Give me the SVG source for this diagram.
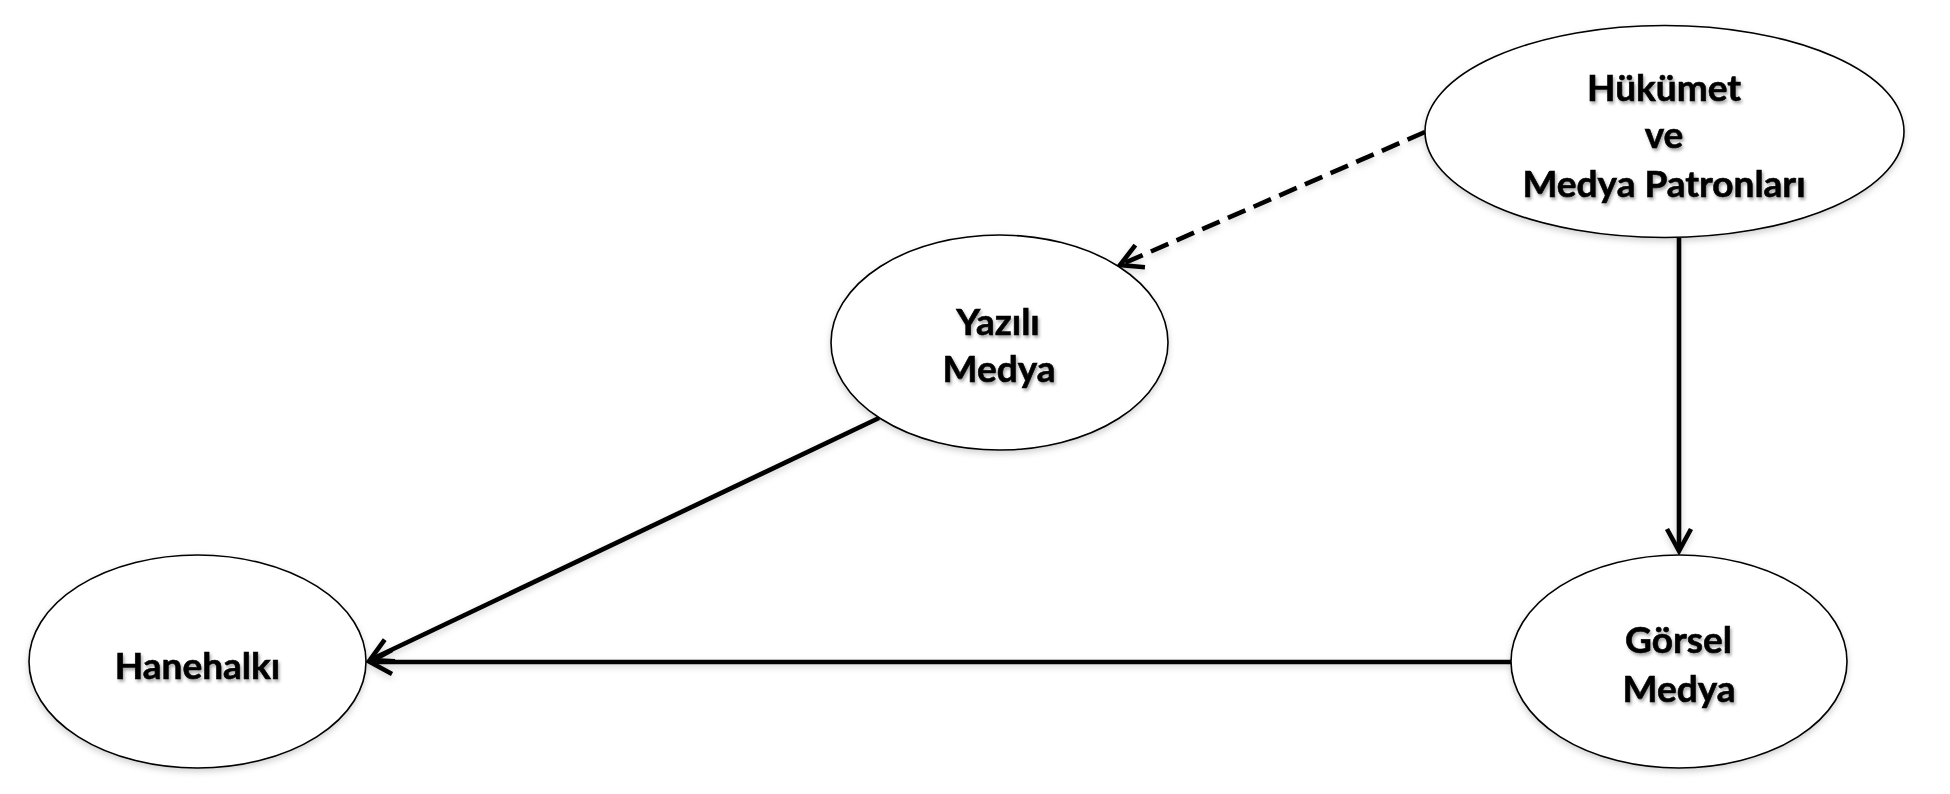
<svg xmlns="http://www.w3.org/2000/svg" width="1950" height="794" viewBox="0 0 1950 794">
  <defs>
    <style>
      .node { fill: #ffffff; stroke: #000000; stroke-width: 1.6; }
      .lbl { font-family: "Lato", "Open Sans", "Liberation Sans", sans-serif; font-weight: bold; font-size: 37px; fill: #000000; stroke: #000000; stroke-width: 0.6; text-anchor: middle; }
      .conn { stroke: #000000; stroke-width: 4.6; fill: none; }
      .dash { stroke-dasharray: 19 9; }
    </style>
    <filter id="shadow" x="-10%" y="-10%" width="120%" height="130%">
      <feDropShadow dx="0" dy="3" stdDeviation="3" flood-color="#000" flood-opacity="0.18"/>
    </filter>
    <filter id="tshadow" x="-10%" y="-20%" width="120%" height="150%">
      <feDropShadow dx="1.5" dy="2.5" stdDeviation="1.5" flood-color="#000" flood-opacity="0.35"/>
    </filter>
    <marker id="arrow" markerUnits="userSpaceOnUse" markerWidth="40" markerHeight="40" viewBox="-30 -20 40 40" refX="0" refY="0" orient="auto">
      <path d="M-22,-12 L0,0 L-22,12" fill="none" stroke="#000" stroke-width="4.6" stroke-dasharray="none" stroke-linejoin="miter"/>
    </marker>
  </defs>
  <rect x="0" y="0" width="1950" height="794" fill="#ffffff"/>

  <g id="connectors" filter="url(#shadow)">
    <line id="c-hukumet-yazili" class="conn dash" x1="1425" y1="132" x2="1120" y2="265" marker-end="url(#arrow)"/>
    <line id="c-hukumet-gorsel" class="conn" x1="1679" y1="238" x2="1679" y2="551" marker-end="url(#arrow)"/>
    <line id="c-yazili-hanehalki" class="conn" x1="879" y1="418" x2="370" y2="660" marker-end="url(#arrow)"/>
    <line id="c-gorsel-hanehalki" class="conn" x1="1511" y1="662" x2="370" y2="662" marker-end="url(#arrow)"/>
  </g>

  <g id="node-hukumet">
    <ellipse class="node" filter="url(#shadow)" cx="1664.5" cy="131.5" rx="239.5" ry="106"/>
    <g filter="url(#tshadow)">
      <text class="lbl" x="1664" y="101">Hükümet</text>
      <text class="lbl" x="1664" y="148">ve</text>
      <text class="lbl" x="1664" y="197">Medya Patronları</text>
    </g>
  </g>

  <g id="node-yazili">
    <ellipse class="node" filter="url(#shadow)" cx="999.5" cy="342.5" rx="168.5" ry="107.5"/>
    <g filter="url(#tshadow)">
      <text class="lbl" x="998" y="335">Yazılı</text>
      <text class="lbl" x="999" y="382">Medya</text>
    </g>
  </g>

  <g id="node-hanehalki">
    <ellipse class="node" filter="url(#shadow)" cx="197.5" cy="661.5" rx="168.5" ry="106.5"/>
    <g filter="url(#tshadow)">
      <text class="lbl" x="197.5" y="679">Hanehalkı</text>
    </g>
  </g>

  <g id="node-gorsel">
    <ellipse class="node" filter="url(#shadow)" cx="1679" cy="661.5" rx="168" ry="106.5"/>
    <g filter="url(#tshadow)">
      <text class="lbl" x="1678.5" y="653">Görsel</text>
      <text class="lbl" x="1679" y="702">Medya</text>
    </g>
  </g>
</svg>
